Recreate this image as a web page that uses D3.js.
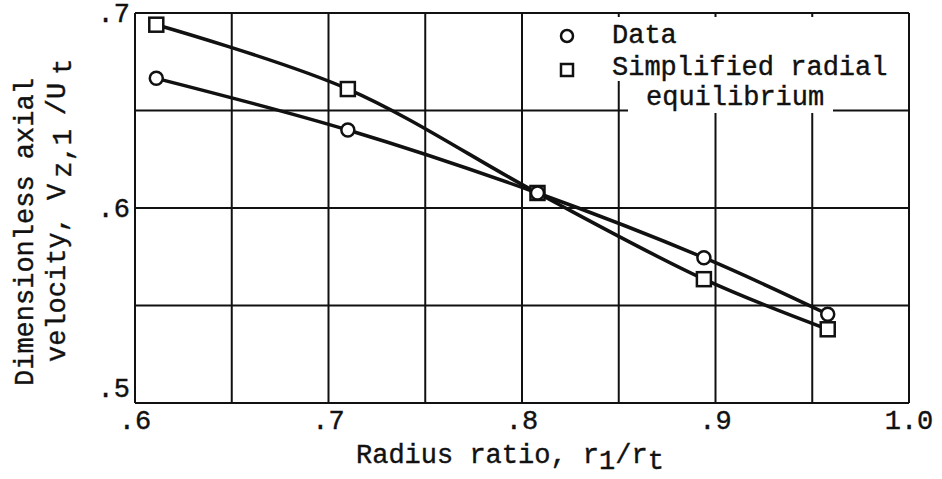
<!DOCTYPE html>
<html>
<head>
<meta charset="utf-8">
<script src="https://cdn.jsdelivr.net/npm/d3@7"></script>
<style>
  body { margin: 0; background: #fff; }
  text { font-family: "Liberation Mono", "DejaVu Sans Mono", monospace; fill: #111; stroke: #111; stroke-width: 0.4px; }
</style>
</head>
<body>
<svg id="chart"></svg>
<script>
// SVG size params
var width = 942;
var height = 479;

// Chart values
var radiusRatio = [0.611, 0.710, 0.808, 0.894, 0.958];
var dataVelocity = [0.6665, 0.640, 0.6077, 0.5745, 0.5455];
var sreVelocity = [0.694, 0.661, 0.6077, 0.5635, 0.5378];
var xTicks = [0.6, 0.7, 0.8, 0.9, 1.0];
var xTickLabels = [".6", ".7", ".8", ".9", "1.0"];
var yTicks = [0.5, 0.6, 0.7];
var yTickLabels = [".5", ".6", ".7"];
var xGrid = d3.range(0, 9).map(i => 0.6 + i * 0.05);
var yGrid = d3.range(0, 5).map(i => 0.5 + i * 0.05);

var svg = d3.select("#chart")
            .attr("width", width)
            .attr("height", height);

// Scales
var x = d3.scaleLinear().domain([0.6, 1.0]).range([135, 909]);
var y = d3.scaleLinear().domain([0.5, 0.7]).range([403, 13]);

// Gridlines
var grid = svg.append("g").attr("id", "grid")
    .attr("stroke", "#111").attr("stroke-width", 2);

grid.selectAll("line.v")
  .data(xGrid)
  .enter().append("line")
    .attr("class", "v")
    .attr("x1", d => x(d)).attr("x2", d => x(d))
    .attr("y1", y(0.5)).attr("y2", y(0.7));

grid.selectAll("line.h")
  .data(yGrid)
  .enter().append("line")
    .attr("class", "h")
    .attr("x1", x(0.6)).attr("x2", x(1.0))
    .attr("y1", d => y(d)).attr("y2", d => y(d));

// Tick labels
svg.append("g").selectAll("text")
  .data(xTicks)
  .enter().append("text")
    .attr("x", d => x(d))
    .attr("y", 429)
    .attr("text-anchor", "middle")
    .style("font-size", "27px")
    .text((d, i) => xTickLabels[i]);

svg.append("g").selectAll("text")
  .data(yTicks)
  .enter().append("text")
    .attr("x", 130)
    .attr("y", d => d === 0.5 ? y(d) - 6 : y(d) + 9)
    .attr("text-anchor", "end")
    .style("font-size", "27px")
    .text((d, i) => yTickLabels[i]);

// Axis titles
var xTitle = svg.append("text")
    .attr("x", 356)
    .attr("y", 463)
    .style("font-size", "27px");
xTitle.append("tspan").text("Radius ratio, r");
xTitle.append("tspan").attr("dy", 6).text("1");
xTitle.append("tspan").attr("dy", -6).text("/r");
xTitle.append("tspan").attr("dy", 6).text("t");

var yTitle = svg.append("g")
    .attr("transform", "rotate(-90)");
yTitle.append("text")
    .attr("x", -386)
    .attr("y", 33)
    .style("font-size", "27px")
    .text("Dimensionless axial");
var yTitle2 = yTitle.append("text")
    .attr("x", -362)
    .attr("y", 65)
    .style("font-size", "27px");
yTitle2.append("tspan").text("velocity, V");
yTitle2.append("tspan").attr("dx", 6).attr("dy", 6).text("z,1");
yTitle2.append("tspan").attr("dx", 14).attr("dy", -6).text("/U");
yTitle2.append("tspan").attr("dx", 8).attr("dy", 6).text("t");

// Legend
var legend = svg.append("g").attr("id", "legend");
legend.append("rect")
    .attr("x", 548).attr("y", 17).attr("width", 356).attr("height", 64)
    .attr("fill", "#fff");
legend.append("rect")
    .attr("x", 628).attr("y", 80).attr("width", 205).attr("height", 33)
    .attr("fill", "#fff");
legend.append("circle")
    .attr("cx", 567).attr("cy", 36).attr("r", 6)
    .attr("fill", "#fff").attr("stroke", "#111").attr("stroke-width", 2.5);
legend.append("rect")
    .attr("x", 561).attr("y", 64).attr("width", 12).attr("height", 12)
    .attr("fill", "#fff").attr("stroke", "#111").attr("stroke-width", 2.5);
legend.append("text").attr("x", 612).attr("y", 43).style("font-size", "27px").text("Data");
legend.append("text").attr("x", 612).attr("y", 75).style("font-size", "27px").text("Simplified radial");
legend.append("text").attr("x", 646).attr("y", 105).style("font-size", "27px").text("equilibrium");

// Curves
var line = d3.line()
    .x(d => x(d[0]))
    .y(d => y(d[1]))
    .curve(d3.curveCatmullRom.alpha(0.5));

var series = [
  { name: "sre", values: d3.zip(radiusRatio, sreVelocity) },
  { name: "data", values: d3.zip(radiusRatio, dataVelocity) }
];

svg.append("g").attr("id", "curves")
  .selectAll("path")
  .data(series)
  .enter().append("path")
    .attr("d", d => line(d.values))
    .attr("fill", "none")
    .attr("stroke", "#111")
    .attr("stroke-width", 3.5);

// Markers
svg.append("g").selectAll("rect")
  .data(series[0].values)
  .enter().append("rect")
    .attr("x", d => x(d[0]) - 7)
    .attr("y", d => y(d[1]) - 7)
    .attr("width", 14).attr("height", 14)
    .attr("fill", "#fff").attr("stroke", "#111").attr("stroke-width", 2.5);

svg.append("g").selectAll("circle")
  .data(series[1].values)
  .enter().append("circle")
    .attr("cx", d => x(d[0]))
    .attr("cy", d => y(d[1]))
    .attr("r", 6.5)
    .attr("fill", "#fff").attr("stroke", "#111").attr("stroke-width", 2.5);
</script>
</body>
</html>
